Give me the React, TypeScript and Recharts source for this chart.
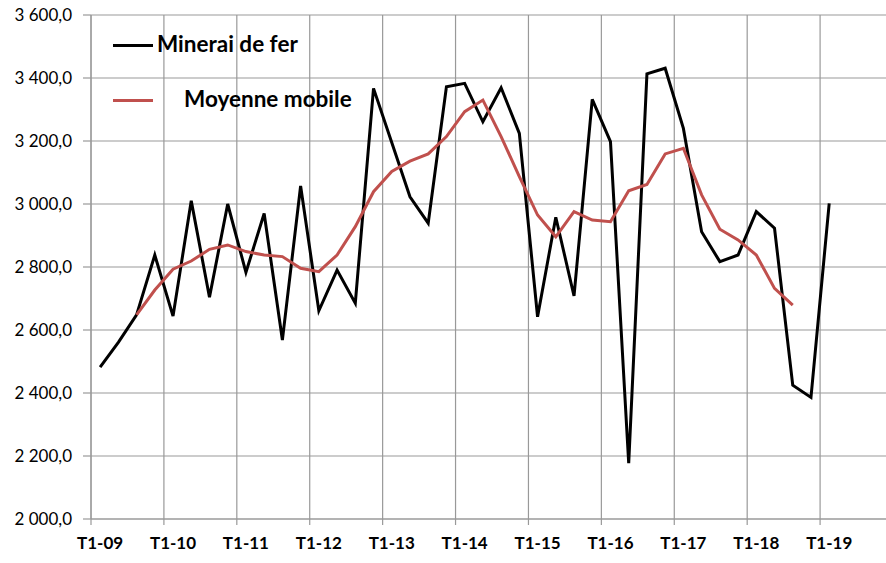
import * as React from "react";
import {CartesianGrid, Line, LineChart, XAxis, YAxis} from "recharts";

const yearLabels = ["T1-09", "T1-10", "T1-11", "T1-12", "T1-13", "T1-14", "T1-15", "T1-16", "T1-17", "T1-18", "T1-19"];

// quarterly values, T1-09 .. T1-19
const minerai = [
    2482, 2561, 2648, 2838, 2644, 3010, 2704, 3000, 2783, 2970, 2568,
    3057, 2661, 2790, 2685, 3367, 3195, 3023, 2939, 3372, 3383,
    3261, 3369, 3224, 2642, 2958, 2708, 3332, 3198, 2177, 3413,
    3431, 3240, 2912, 2817, 2838, 2976, 2923, 2425, 2386, 3002,
];

// centred moving average, starts at 3rd quarter
const moyenneStart = 2;
const moyenne = [
    2648, 2727, 2793, 2819, 2856, 2870, 2849, 2838, 2833, 2796,
    2785, 2838, 2928, 3039, 3103, 3136, 3159, 3214, 3293, 3330,
    3214, 3087, 2965, 2896, 2976, 2949, 2944, 3042, 3062, 3159,
    3177, 3029, 2920, 2886, 2838, 2732, 2679,
];

const yTicks = [2000, 2200, 2400, 2600, 2800, 3000, 3200, 3400, 3600];
const xTicks = yearLabels.map((_, i) => i * 4 - 0.5).concat([43.5]);

const data = minerai.map((v, i) => {
    const m = i - moyenneStart;
    return {idx: i, minerai: v, moyenne: m >= 0 && m < moyenne.length ? moyenne[m] : null};
});

const FONT = "Lato, 'Open Sans', sans-serif";

const fmtY = (v: number) => Math.floor(v / 1000) + " " + String(v % 1000).padStart(3, "0") + ",0";

const XTick = (props: any) => {
    const label = yearLabels[(props.payload.value + 0.5) / 4];
    if (!label) return null;
    return (
        <text x={props.x + 9.1} y={props.y + 22} textAnchor="middle" fontFamily={FONT} fontWeight="bold"
              fontSize={17} fill="#000">{label}</text>
    );
};

const legendText: React.CSSProperties = {position: "absolute", lineHeight: "26px", whiteSpace: "nowrap"};

const LegendBox = () => (
    <div style={{position: "absolute", left: 0, top: 0, width: 400, height: 130, fontFamily: FONT, fontWeight: "bold",
        fontSize: 22.5, pointerEvents: "none"}}>
        <div style={{position: "absolute", left: 113, top: 44, width: 40, height: 3, background: "#000"}}/>
        <div style={{...legendText, left: 157, top: 31}}>Minerai de fer</div>
        <div style={{position: "absolute", left: 113, top: 99, width: 40, height: 3, background: "#C0504D"}}/>
        <div style={{...legendText, left: 184, top: 86}}>Moyenne mobile</div>
    </div>
);

export default function App() {
    return (
        <div style={{position: "absolute", left: 0, top: 0, width: 886, height: 563, overflow: "hidden", background: "#fff"}}>
            <LineChart width={900} height={563} data={data} margin={{top: 15, right: 7, left: 0, bottom: 0}}>
                <CartesianGrid stroke="#999" strokeWidth={1.2}/>
                <XAxis type="number" dataKey="idx" domain={[-0.5, 43.5]} ticks={xTicks} interval={0}
                       height={44} tick={<XTick/>} tickSize={6} stroke="#999" strokeWidth={1.2}/>
                <YAxis type="number" domain={[2000, 3600]} ticks={yTicks} interval={0} width={91}
                       tickSize={8} tickMargin={11} stroke="#999" strokeWidth={1.2} tickFormatter={fmtY}
                       tick={{fill: "#000", fontSize: 17, fontFamily: FONT}}/>
                <Line type="linear" dataKey="minerai" stroke="#000" strokeWidth={3} dot={false}
                      isAnimationActive={false}/>
                <Line type="linear" dataKey="moyenne" stroke="#C0504D" strokeWidth={3} dot={false}
                      isAnimationActive={false} connectNulls={false}/>
            </LineChart>
            <LegendBox/>
        </div>
    );
}
